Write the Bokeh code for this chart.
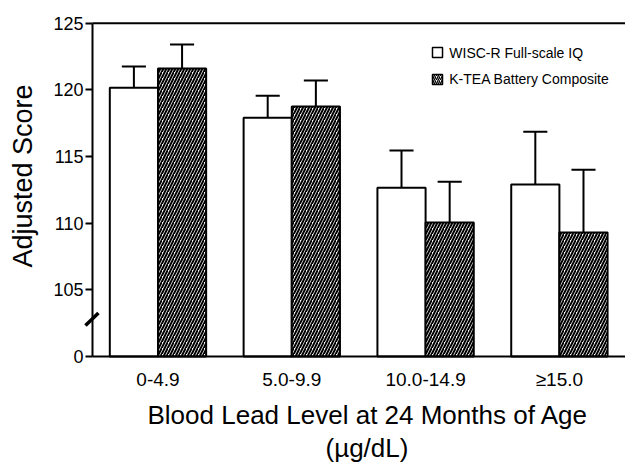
import math
from bokeh.plotting import figure
from bokeh.models import Range1d, FixedTicker, Arrow, LinearAxis, Title
from bokeh.core.properties import value
from bokeh.embed import file_html
from bokeh.resources import INLINE

# ---- data ----
categories = ["0-4.9", "5.0-9.9", "10.0-14.9", "\u226515.0"]
wisc_mean = [120.15, 117.9, 112.65, 112.9]
wisc_se = [1.6, 1.65, 2.8, 3.95]
ktea_mean = [121.6, 118.75, 110.05, 109.3]
ktea_se = [1.8, 1.95, 3.05, 4.7]
y_ticks = [100, 105, 110, 115, 120, 125]
y_tick_labels = ["0", "105", "110", "115", "120", "125"]
series_names = ["WISC-R Full-scale IQ", "K-TEA Battery Composite"]

FONT = "Liberation Sans"
BASE = 100    # axis break: value 0 drawn at this level
Y_TOP = 125
AXIS_X = -0.4895  # where the y axis sits (data units)
X_START = -0.878
X_END = 3.494

p = figure(width=625, height=462, output_backend="svg", toolbar_location=None,
           x_range=Range1d(X_START, X_END), y_range=Range1d(97.0, 125.80),
           x_axis_location=None, y_axis_location=None,
           min_border_left=40, min_border_right=0, min_border_top=12,
           min_border_bottom=66)
p.outline_line_color = None
p.background_fill_color = "white"
p.border_fill_color = "white"
p.xgrid.visible = False
p.ygrid.visible = False

xs = list(range(len(categories)))
bw = 0.36
xw = [x - bw / 2 for x in xs]
xk = [x + bw / 2 for x in xs]

p.vbar(x=xw, top=wisc_mean, bottom=BASE, width=bw, fill_color="white",
       line_color="black", line_width=2)
p.vbar(x=xk, top=ktea_mean, bottom=BASE, width=bw, fill_color="white",
       line_color="black", line_width=2, hatch_pattern="/", hatch_color="black",
       hatch_scale=6, hatch_weight=2)

cap = 0.09
for cx, m, s in [(xw, wisc_mean, wisc_se), (xk, ktea_mean, ktea_se)]:
    tops = [a + b for a, b in zip(m, s)]
    p.segment(x0=cx, y0=m, x1=cx, y1=tops, line_color="black", line_width=2)
    p.segment(x0=[c - cap for c in cx], y0=tops, x1=[c + cap for c in cx], y1=tops,
              line_color="black", line_width=2)

# top frame line
p.segment(x0=[AXIS_X], y0=[Y_TOP], x1=[X_END], y1=[Y_TOP], line_color="black",
          line_width=2)

# legend (manual)
lx = 2.089
ly = [122.8, 120.78]
p.rect(x=[lx], y=[ly[0]], width=0.075, height=0.75, fill_color="white",
       line_color="black", line_width=1.5)
p.rect(x=[lx], y=[ly[1]], width=0.075, height=0.75, fill_color="white",
       line_color="black", line_width=1.5, hatch_pattern="/", hatch_color="black",
       hatch_scale=4, hatch_weight=1.3)
p.text(x=[lx + 0.088, lx + 0.088], y=ly, text=series_names, text_font=value(FONT),
       text_font_size="14px", text_baseline="middle", text_align="left",
       text_color="black")

# x axis at the (broken) zero level
xa = LinearAxis(fixed_location=BASE, bounds=(AXIS_X, X_END),
                ticker=FixedTicker(ticks=xs),
                major_label_overrides={i: c for i, c in enumerate(categories)},
                major_tick_out=0, major_tick_in=0, minor_tick_out=0, minor_tick_in=0,
                axis_line_width=2, axis_line_color="black",
                major_label_text_font=FONT, major_label_text_font_size="19px",
                major_label_text_color="black", major_label_standoff=12)
p.add_layout(xa, "below")

# y axis at fixed location
ya = LinearAxis(fixed_location=AXIS_X, bounds=(BASE, Y_TOP),
                ticker=FixedTicker(ticks=y_ticks),
                major_label_overrides={t: l for t, l in zip(y_ticks, y_tick_labels)},
                major_tick_out=7, major_tick_in=0, minor_tick_out=0, minor_tick_in=0,
                major_tick_line_width=2, axis_line_width=2, axis_line_color="black",
                major_label_text_font=FONT, major_label_text_font_size="18px",
                major_label_text_color="black", major_label_standoff=2)
p.add_layout(ya, "left")

# axis break mark
p.add_layout(Arrow(x_start=-0.542, y_start=102.32, x_end=-0.445, y_end=103.27,
                   end=None, line_color="black", line_width=3.5))

# titles
p.add_layout(Title(text="Adjusted Score", align="left", offset=129,
                   text_font=FONT, text_font_size="27px", text_font_style="normal",
                   text_color="black", standoff=6), "left")
p.add_layout(Title(text="Blood Lead Level at 24 Months of Age", align="left",
                   offset=107, text_font=FONT, text_font_size="26px",
                   text_font_style="normal", text_color="black", standoff=2), "below")
p.add_layout(Title(text="(\u00b5g/dL)", align="left", offset=285,
                   text_font=FONT, text_font_size="26px", text_font_style="normal",
                   text_color="black", standoff=0), "below")

open("out.html", "w").write(file_html(p, INLINE))
